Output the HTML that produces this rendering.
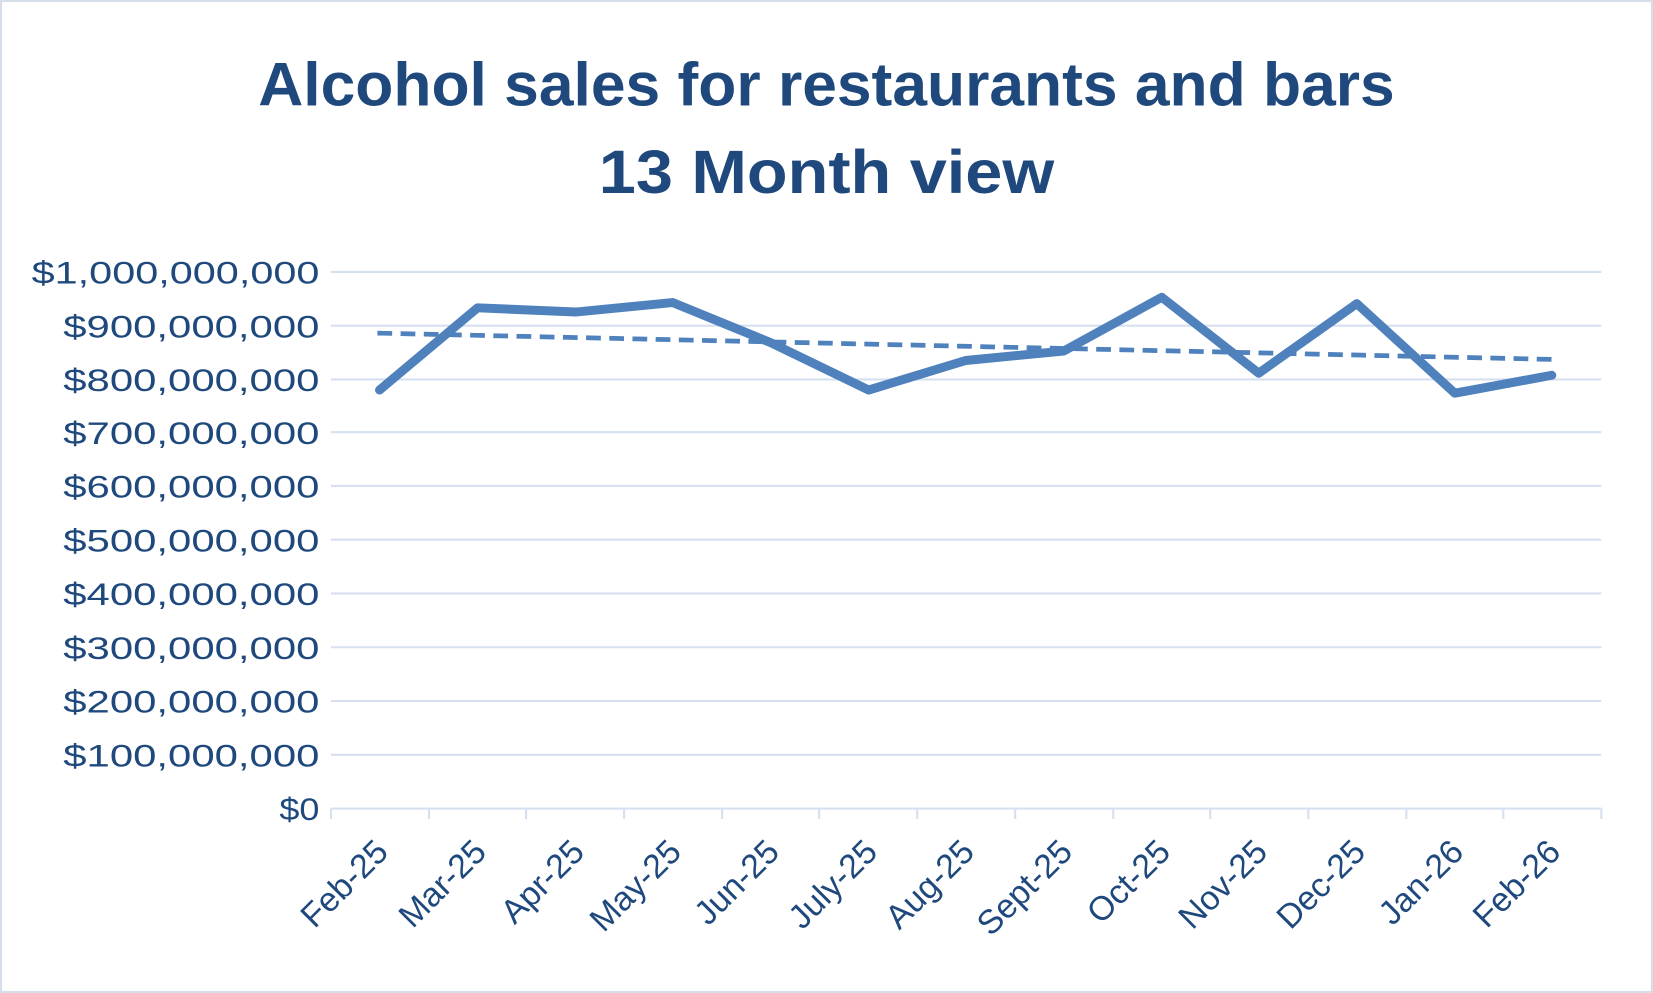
<!DOCTYPE html>
<html><head><meta charset="utf-8"><style>
html,body{margin:0;padding:0;background:#fff;}
svg{display:block;}
text{font-family:"Liberation Sans",sans-serif;fill:#1F497D;}
</style></head><body>
<svg width="1653" height="993" viewBox="0 0 1568 942" preserveAspectRatio="none" xmlns="http://www.w3.org/2000/svg">
<rect x="1" y="1" width="1566" height="940" fill="#fff" stroke="#D6DEEA" stroke-width="2"/>
<text x="784" y="100" text-anchor="middle" font-size="58" font-weight="bold" textLength="1078" lengthAdjust="spacingAndGlyphs">Alcohol sales for restaurants and bars</text>
<text x="784" y="183" text-anchor="middle" font-size="58" font-weight="bold" textLength="432" lengthAdjust="spacingAndGlyphs">13 Month view</text>
<g stroke="#D6E0F0" stroke-width="2">
<line x1="314" x2="1519" y1="258" y2="258"/><line x1="314" x2="1519" y1="309" y2="309"/>
<line x1="314" x2="1519" y1="360" y2="360"/><line x1="314" x2="1519" y1="410" y2="410"/>
<line x1="314" x2="1519" y1="461" y2="461"/><line x1="314" x2="1519" y1="512" y2="512"/>
<line x1="314" x2="1519" y1="563" y2="563"/><line x1="314" x2="1519" y1="614" y2="614"/>
<line x1="314" x2="1519" y1="665" y2="665"/><line x1="314" x2="1519" y1="716" y2="716"/>
<line x1="314" x2="1519" y1="767" y2="767"/>
<line x1="314" x2="314" y1="767" y2="777"/><line x1="407" x2="407" y1="767" y2="777"/>
<line x1="499" x2="499" y1="767" y2="777"/><line x1="592" x2="592" y1="767" y2="777"/>
<line x1="685" x2="685" y1="767" y2="777"/><line x1="777" x2="777" y1="767" y2="777"/>
<line x1="870" x2="870" y1="767" y2="777"/><line x1="963" x2="963" y1="767" y2="777"/>
<line x1="1056" x2="1056" y1="767" y2="777"/><line x1="1148" x2="1148" y1="767" y2="777"/>
<line x1="1241" x2="1241" y1="767" y2="777"/><line x1="1334" x2="1334" y1="767" y2="777"/>
<line x1="1426" x2="1426" y1="767" y2="777"/><line x1="1519" x2="1519" y1="767" y2="777"/>
</g>
<g font-size="30" text-anchor="end">
<text x="303" y="269" textLength="273" lengthAdjust="spacingAndGlyphs">$1,000,000,000</text>
<text x="303" y="320" textLength="243" lengthAdjust="spacingAndGlyphs">$900,000,000</text>
<text x="303" y="371" textLength="243" lengthAdjust="spacingAndGlyphs">$800,000,000</text>
<text x="303" y="421" textLength="243" lengthAdjust="spacingAndGlyphs">$700,000,000</text>
<text x="303" y="472" textLength="243" lengthAdjust="spacingAndGlyphs">$600,000,000</text>
<text x="303" y="523" textLength="243" lengthAdjust="spacingAndGlyphs">$500,000,000</text>
<text x="303" y="574" textLength="243" lengthAdjust="spacingAndGlyphs">$400,000,000</text>
<text x="303" y="625" textLength="243" lengthAdjust="spacingAndGlyphs">$300,000,000</text>
<text x="303" y="676" textLength="243" lengthAdjust="spacingAndGlyphs">$200,000,000</text>
<text x="303" y="727" textLength="243" lengthAdjust="spacingAndGlyphs">$100,000,000</text>
<text x="303" y="778" textLength="38" lengthAdjust="spacingAndGlyphs">$0</text>
</g>
<g font-size="32" text-anchor="end">
<text transform="translate(370,810) rotate(-45)">Feb-25</text>
<text transform="translate(463,810) rotate(-45)">Mar-25</text>
<text transform="translate(556,810) rotate(-45)">Apr-25</text>
<text transform="translate(648,810) rotate(-45)">May-25</text>
<text transform="translate(741,810) rotate(-45)">Jun-25</text>
<text transform="translate(834,810) rotate(-45)">July-25</text>
<text transform="translate(926,810) rotate(-45)">Aug-25</text>
<text transform="translate(1019,810) rotate(-45)">Sept-25</text>
<text transform="translate(1112,810) rotate(-45)">Oct-25</text>
<text transform="translate(1204,810) rotate(-45)">Nov-25</text>
<text transform="translate(1297,810) rotate(-45)">Dec-25</text>
<text transform="translate(1390,810) rotate(-45)">Jan-26</text>
<text transform="translate(1482,810) rotate(-45)">Feb-26</text>
</g>
<line x1="358" y1="316" x2="1474" y2="341" stroke="#4F81BD" stroke-width="4.5" stroke-dasharray="14,8"/>
<polyline fill="none" stroke="#4F81BD" stroke-width="8.5" stroke-linejoin="round" stroke-linecap="round"
points="360,370 453,292 546,296 638,287 731,325 824,370 916,342 1009,333 1102,282 1194,354 1287,288 1380,373 1472,356"/>
</svg>
</body></html>
